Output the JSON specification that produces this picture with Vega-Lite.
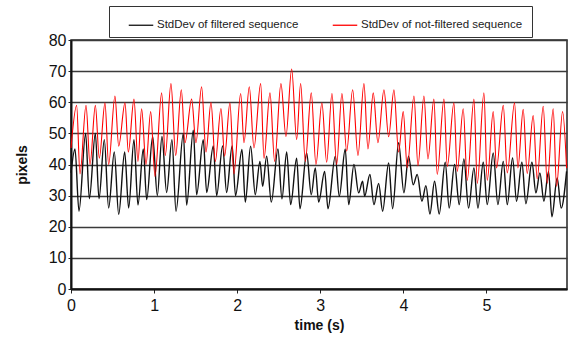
{
  "$schema": "https://vega.github.io/schema/vega-lite/v6.json",
  "width": 496,
  "height": 249,
  "autosize": {"type": "none"},
  "padding": {"left": 71, "top": 40, "right": 9, "bottom": 49},
  "background": "white",
  "config": {
    "font": "Liberation Sans",
    "view": {"stroke": "#222222", "strokeWidth": 1.5},
    "axis": {"labelFont": "Liberation Sans", "titleFont": "Liberation Sans", "labelColor": "#111111", "titleColor": "#111111"}
  },
  "datasets": {
    "filtered": [
      {"t": 0.0, "v": 37.3}, {"t": 0.048, "v": 45}, {"t": 0.096, "v": 25}, {"t": 0.176, "v": 50}, {"t": 0.221, "v": 29},
      {"t": 0.293, "v": 50}, {"t": 0.337, "v": 29}, {"t": 0.401, "v": 48}, {"t": 0.453, "v": 26}, {"t": 0.521, "v": 44},
      {"t": 0.574, "v": 24}, {"t": 0.646, "v": 44}, {"t": 0.694, "v": 26}, {"t": 0.758, "v": 48}, {"t": 0.806, "v": 27},
      {"t": 0.87, "v": 45}, {"t": 0.911, "v": 28.7}, {"t": 0.983, "v": 49}, {"t": 1.039, "v": 30}, {"t": 1.095, "v": 49},
      {"t": 1.151, "v": 31}, {"t": 1.215, "v": 48}, {"t": 1.264, "v": 25}, {"t": 1.352, "v": 50}, {"t": 1.392, "v": 27},
      {"t": 1.472, "v": 51}, {"t": 1.512, "v": 30.3}, {"t": 1.592, "v": 48}, {"t": 1.633, "v": 31}, {"t": 1.713, "v": 46},
      {"t": 1.753, "v": 30}, {"t": 1.825, "v": 46}, {"t": 1.873, "v": 31}, {"t": 1.94, "v": 46}, {"t": 1.98, "v": 30},
      {"t": 2.058, "v": 44.8}, {"t": 2.098, "v": 27.9}, {"t": 2.162, "v": 45.9}, {"t": 2.218, "v": 30.3}, {"t": 2.274, "v": 41},
      {"t": 2.307, "v": 33}, {"t": 2.355, "v": 42.7}, {"t": 2.411, "v": 27.9}, {"t": 2.491, "v": 45}, {"t": 2.539, "v": 29},
      {"t": 2.596, "v": 44}, {"t": 2.644, "v": 27.1}, {"t": 2.716, "v": 42}, {"t": 2.756, "v": 25.8}, {"t": 2.836, "v": 43.7},
      {"t": 2.892, "v": 30.3}, {"t": 2.94, "v": 38.9}, {"t": 2.981, "v": 27.9}, {"t": 3.053, "v": 37.8}, {"t": 3.093, "v": 25.8},
      {"t": 3.181, "v": 42.7}, {"t": 3.229, "v": 29.8}, {"t": 3.301, "v": 45}, {"t": 3.342, "v": 27.1}, {"t": 3.406, "v": 40},
      {"t": 3.462, "v": 30.9}, {"t": 3.51, "v": 34.6}, {"t": 3.534, "v": 29.8}, {"t": 3.598, "v": 36.8}, {"t": 3.646, "v": 27.1},
      {"t": 3.703, "v": 33.9}, {"t": 3.751, "v": 25}, {"t": 3.823, "v": 40.5}, {"t": 3.871, "v": 25.8}, {"t": 3.943, "v": 47},
      {"t": 4.007, "v": 30.9}, {"t": 4.063, "v": 42.7}, {"t": 4.119, "v": 33.5}, {"t": 4.167, "v": 36.8}, {"t": 4.224, "v": 28.2},
      {"t": 4.272, "v": 33.2}, {"t": 4.32, "v": 24.1}, {"t": 4.376, "v": 34.6}, {"t": 4.432, "v": 24.1}, {"t": 4.504, "v": 40.7},
      {"t": 4.552, "v": 26}, {"t": 4.617, "v": 40}, {"t": 4.673, "v": 27.1}, {"t": 4.729, "v": 41.8}, {"t": 4.785, "v": 26},
      {"t": 4.85, "v": 38.9}, {"t": 4.898, "v": 26}, {"t": 4.962, "v": 40.7}, {"t": 5.01, "v": 27.1}, {"t": 5.082, "v": 43.7},
      {"t": 5.138, "v": 27.1}, {"t": 5.203, "v": 41}, {"t": 5.251, "v": 27.1}, {"t": 5.315, "v": 42.1}, {"t": 5.363, "v": 28.2},
      {"t": 5.427, "v": 40.7}, {"t": 5.475, "v": 27.4}, {"t": 5.548, "v": 40.7}, {"t": 5.596, "v": 30.9}, {"t": 5.644, "v": 37.3},
      {"t": 5.692, "v": 28.2}, {"t": 5.748, "v": 37.8}, {"t": 5.788, "v": 23.2}, {"t": 5.852, "v": 35.7}, {"t": 5.9, "v": 26},
      {"t": 5.965, "v": 37.8}
    ],
    "notFiltered": [
      {"t": 0.0, "v": 45.3}, {"t": 0.068, "v": 59}, {"t": 0.108, "v": 37}, {"t": 0.181, "v": 59}, {"t": 0.229, "v": 40},
      {"t": 0.293, "v": 59}, {"t": 0.341, "v": 42}, {"t": 0.409, "v": 59.8}, {"t": 0.453, "v": 40}, {"t": 0.529, "v": 62},
      {"t": 0.574, "v": 45.9}, {"t": 0.65, "v": 59.8}, {"t": 0.69, "v": 44}, {"t": 0.758, "v": 61}, {"t": 0.806, "v": 41},
      {"t": 0.85, "v": 57.9}, {"t": 0.903, "v": 40}, {"t": 0.959, "v": 57}, {"t": 1.011, "v": 36.2}, {"t": 1.091, "v": 63},
      {"t": 1.135, "v": 42.9}, {"t": 1.203, "v": 66}, {"t": 1.26, "v": 42.9}, {"t": 1.328, "v": 64}, {"t": 1.372, "v": 47},
      {"t": 1.452, "v": 61}, {"t": 1.504, "v": 47}, {"t": 1.572, "v": 65}, {"t": 1.625, "v": 44}, {"t": 1.685, "v": 60},
      {"t": 1.737, "v": 41}, {"t": 1.805, "v": 58}, {"t": 1.849, "v": 42.7}, {"t": 1.913, "v": 59.8}, {"t": 1.961, "v": 37},
      {"t": 2.042, "v": 62.8}, {"t": 2.082, "v": 47}, {"t": 2.146, "v": 65}, {"t": 2.202, "v": 45.3}, {"t": 2.283, "v": 66},
      {"t": 2.323, "v": 42}, {"t": 2.395, "v": 63}, {"t": 2.451, "v": 41}, {"t": 2.527, "v": 66}, {"t": 2.587, "v": 49},
      {"t": 2.656, "v": 70.7}, {"t": 2.716, "v": 48}, {"t": 2.764, "v": 66}, {"t": 2.82, "v": 41}, {"t": 2.892, "v": 63},
      {"t": 2.948, "v": 40}, {"t": 3.02, "v": 59.8}, {"t": 3.077, "v": 40.7}, {"t": 3.141, "v": 62.8}, {"t": 3.197, "v": 40},
      {"t": 3.261, "v": 62.8}, {"t": 3.318, "v": 44.3}, {"t": 3.39, "v": 64}, {"t": 3.454, "v": 42.9}, {"t": 3.526, "v": 66},
      {"t": 3.574, "v": 45}, {"t": 3.638, "v": 63}, {"t": 3.694, "v": 47}, {"t": 3.767, "v": 64}, {"t": 3.823, "v": 48.9},
      {"t": 3.887, "v": 64}, {"t": 3.943, "v": 44}, {"t": 3.999, "v": 57}, {"t": 4.047, "v": 39}, {"t": 4.128, "v": 62},
      {"t": 4.176, "v": 39.6}, {"t": 4.248, "v": 62}, {"t": 4.296, "v": 41.8}, {"t": 4.368, "v": 61}, {"t": 4.408, "v": 36.8},
      {"t": 4.489, "v": 61}, {"t": 4.529, "v": 39.4}, {"t": 4.609, "v": 59.8}, {"t": 4.649, "v": 37.8}, {"t": 4.721, "v": 57.9},
      {"t": 4.769, "v": 34.9}, {"t": 4.85, "v": 61}, {"t": 4.89, "v": 33.9}, {"t": 4.97, "v": 63}, {"t": 5.01, "v": 34.9},
      {"t": 5.082, "v": 57}, {"t": 5.122, "v": 38.9}, {"t": 5.203, "v": 59}, {"t": 5.251, "v": 37.3}, {"t": 5.339, "v": 59.8},
      {"t": 5.379, "v": 38.9}, {"t": 5.443, "v": 57.7}, {"t": 5.491, "v": 37.1}, {"t": 5.563, "v": 55.7}, {"t": 5.611, "v": 35.4},
      {"t": 5.684, "v": 58.7}, {"t": 5.732, "v": 34}, {"t": 5.804, "v": 57.9}, {"t": 5.844, "v": 33}, {"t": 5.917, "v": 57},
      {"t": 5.965, "v": 38.9}
    ]
  },
  "encoding": {
    "x": {
      "field": "t", "type": "quantitative",
      "scale": {"domain": [0, 5.97], "nice": false, "zero": false},
      "axis": {
        "title": "time (s)", "values": [0, 1, 2, 3, 4, 5], "grid": false,
        "labelFontSize": 16, "labelPadding": 4, "tickSize": 4, "tickColor": "#222222", "tickWidth": 1,
        "domainColor": "#111111", "domainWidth": 2,
        "titleFontSize": 14, "titleFontWeight": "bold", "titlePadding": 5,
        "labelFlush": false
      }
    },
    "y": {
      "field": "v", "type": "quantitative",
      "scale": {"domain": [0, 80], "nice": false},
      "axis": {
        "title": "pixels", "values": [0, 10, 20, 30, 40, 50, 60, 70, 80], "grid": true,
        "gridColor": "#3a3a3a", "gridWidth": 1.3, "gridOpacity": 1,
        "labelFontSize": 16, "labelPadding": 2, "tickSize": 3, "tickColor": "#222222",
        "domainColor": "#111111", "domainWidth": 2,
        "titleFontSize": 14, "titleFontWeight": "bold", "titlePadding": 19
      }
    }
  },
  "layer": [
    {
      "data": {"name": "filtered"},
      "mark": {"type": "line", "interpolate": "monotone", "strokeWidth": 1.4},
      "encoding": {
        "color": {
          "datum": "StdDev of filtered sequence",
          "scale": {"domain": ["StdDev of filtered sequence", "StdDev of  not-filtered sequence"], "range": ["#111111", "#ff0000"]},
          "legend": {
            "title": null, "orient": "none", "legendX": 38, "legendY": -34, "direction": "horizontal",
            "padding": 6, "strokeColor": "#333333", "fillColor": "white",
            "labelFontSize": 11.5, "labelFont": "Liberation Sans", "labelColor": "#222222", "labelLimit": 400,
            "symbolType": "stroke", "symbolSize": 600, "symbolStrokeWidth": 1.3, "symbolOffset": 13,
            "labelOffset": 3, "columnPadding": 20
          }
        }
      }
    },
    {
      "data": {"name": "notFiltered"},
      "mark": {"type": "line", "interpolate": "monotone", "strokeWidth": 1.1},
      "encoding": {
        "color": {"datum": "StdDev of  not-filtered sequence"}
      }
    }
  ]
}
